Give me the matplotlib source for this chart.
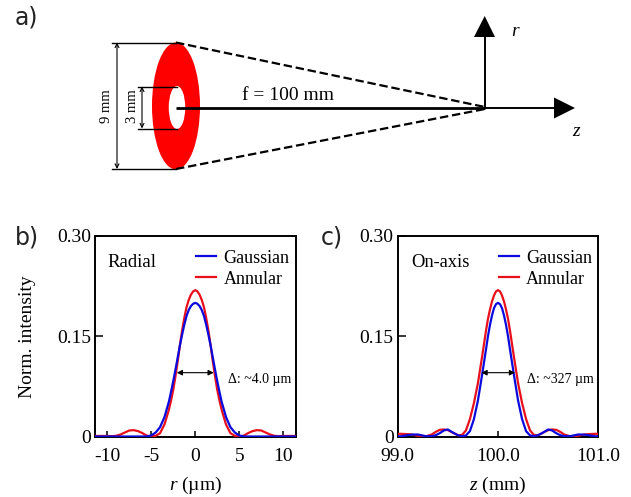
import matplotlib
matplotlib.use("Agg")
import matplotlib.pyplot as plt
from matplotlib.patches import Ellipse, Polygon

plt.rcParams['font.family'] = ['Liberation Serif', 'DejaVu Serif']
plt.rcParams['axes.unicode_minus'] = False
plt.rcParams['mathtext.fontset'] = 'custom'
plt.rcParams['mathtext.it'] = 'Liberation Serif:italic'
plt.rcParams['mathtext.rm'] = 'Liberation Serif'

# ---- data: half-profiles (curves are symmetric about the centre) ----
r_half = [0, .25, .5, .75, 1, 1.25, 1.5, 1.75, 2, 2.25, 2.5, 2.75, 3, 3.5, 4, 4.5, 5, 5.5, 6, 6.5, 7, 7.5, 8, 8.5, 9, 9.5, 10, 11.4]
radial_gauss = [.200, .1985, .195, .189, .180, .167, .152, .136, .118, .100, .083, .067, .052, .029, .014, .006, .0015, .0002, 0, 0, 0, 0, 0, 0, 0, 0, 0, 0]
radial_annular = [.219, .217, .212, .204, .193, .177, .158, .136, .112, .090, .070, .054, .040, .018, .005, .001, .0002, .0012, .005, .008, .0095, .009, .006, .003, .001, .0005, .0008, .0008]

z_half = [0, .02, .04, .06, .08, .10, .12, .16, .20, .24, .28, .32, .36, .40, .44, .50, .54, .58, .62, .66, .72, .80, .86, .90, .97, 1.0]
axial_gauss = [.200, .198, .192, .181, .167, .150, .130, .091, .054, .026, .008, .0015, .0005, .002, .005, .0105, .009, .005, .002, .0005, .0005, .003, .0028, .002, .0003, .0002]
axial_annular = [.219, .217, .211, .202, .190, .176, .158, .118, .080, .050, .026, .009, .002, .002, .005, .0095, .0105, .010, .007, .003, .0003, .001, .003, .0035, .004, .004]

b_xticks = [-10, -5, 0, 5, 10]
c_xticks = [99, 100, 101]
c_xticklabels = ['99.0', '100.0', '101.0']
yticks = [0, .15, .30]
yticklabels = ['0', '0.15', '0.30']
series_names = ['Gaussian', 'Annular']
BLUE, RED = '#0a0ade', '#e8101a'

W, H = 631, 497
fig = plt.figure(figsize=(W / 100, H / 100), dpi=100)


def axes_px(x0, x1, y0, y1):
    return fig.add_axes([x0 / W, 1 - y1 / H, (x1 - x0) / W, (y1 - y0) / H])


def mirror(xs, ys, c):
    return [c - x for x in xs[:0:-1]] + [c + x for x in xs], ys[:0:-1] + ys


def panel(ax, x, g, a, xlim, ticks, labels, xlabel, title, title_x, title_size, delta, arrow, delta_x, xpad):
    gx, gy = mirror(x, g, ticks[len(ticks) // 2])
    ax_, ay = mirror(x, a, ticks[len(ticks) // 2])
    ax.plot(ax_, ay, color=RED, lw=1.6, label=series_names[1], zorder=3)
    ax.plot(gx, gy, color=BLUE, lw=1.6, label=series_names[0], zorder=4)
    ax.set_xlim(*xlim)
    ax.set_ylim(0, .30)
    ax.set_xticks(ticks)
    ax.set_xticklabels(labels)
    ax.set_yticks(yticks)
    ax.set_yticklabels(yticklabels)
    ax.tick_params(axis='x', direction='in', length=4.5, width=1.1, labelsize=14, pad=8)
    ax.tick_params(axis='y', direction='in', length=6, width=1.1, labelsize=14, pad=3)
    for s in ax.spines.values():
        s.set_linewidth(1.4)
    ax.set_xlabel(xlabel, fontsize=14, labelpad=xpad)
    handles, names = ax.get_legend_handles_labels()
    ax.legend(handles[::-1], names[::-1], loc='upper right', bbox_to_anchor=(0.983, 0.945), frameon=False,
              fontsize=13, handlelength=1.1, handletextpad=0.42, labelspacing=0.22,
              borderaxespad=0, borderpad=0.15)
    ax.text(title_x, .87, title, transform=ax.transAxes, fontsize=title_size, ha='left', va='center')
    ax.annotate('', xy=(arrow[0], .0955), xytext=(arrow[1], .0955),
                arrowprops=dict(arrowstyle='<|-|>', color='black', lw=0.8, mutation_scale=8,
                                shrinkA=0, shrinkB=0), zorder=5)
    ax.text(delta_x, .285, delta, transform=ax.transAxes, fontsize=10, ha='left', va='center')


axb = axes_px(95, 295.5, 236, 436.5)
panel(axb, r_half, radial_gauss, radial_annular, (-11.4, 11.4), b_xticks, [str(t) for t in b_xticks],
      r'$r$ (µm)', 'Radial', .06, 13.5, 'Δ: ~4.0 µm', (-2.1, 2.1), .665, 7.5)
axb.set_ylabel('Norm. intensity', fontsize=14, labelpad=15)

axc = axes_px(397.7, 598.3, 236, 436.5)
panel(axc, z_half, axial_gauss, axial_annular, (99, 101), c_xticks, c_xticklabels,
      r'$z$ (mm)', 'On-axis', .07, 13.3, 'Δ: ~327 µm', (99.835, 100.17), .645, 7.5)

# ---- schematic, drawn in figure pixels ----
d = fig.add_axes([0, 0, 1, 1], zorder=10)
d.set_xlim(0, W)
d.set_ylim(H, 0)
d.axis('off')
d.patch.set_alpha(0)

d.add_patch(Ellipse((176, 106), 48, 127, fc='#ff0000', ec='none', zorder=1))
d.add_patch(Ellipse((177, 107.5), 16.5, 43, fc='white', ec='none', zorder=2))
d.plot([176, 485], [108, 108], color='k', lw=2, solid_capstyle='butt', zorder=3)
for y in (42.5, 169):
    d.plot([176, 485], [y, 107 if y < 100 else 109], color='k', lw=1.6, ls=(0, (3.8, 1.7)), zorder=3)
for y, x0, x1 in [(42.5, 112, 176), (169, 112, 176), (86.5, 138, 177), (128.5, 138, 177)]:
    d.plot([x0, x1], [y, y], color='k', lw=1, zorder=3)
for x, y0, y1 in [(117, 42.5, 169), (142, 86.5, 128.5)]:
    d.annotate('', xy=(x, y0), xytext=(x, y1),
               arrowprops=dict(arrowstyle='<->', color='k', lw=0.8, mutation_scale=7, shrinkA=0, shrinkB=0))
d.text(107, 106, '9 mm', rotation=90, fontsize=10.5, ha='center', va='center')
d.text(132.5, 106, '3 mm', rotation=90, fontsize=10.5, ha='center', va='center')
d.text(288.5, 95.5, 'f = 100 mm', fontsize=14, ha='center', va='center')

d.plot([484.7, 484.7], [108, 36], color='k', lw=1.4, zorder=4)
d.plot([484.7, 556], [108, 108], color='k', lw=1.4, zorder=4)
d.add_patch(Polygon([[484.7, 16], [474, 37], [495, 37]], fc='k', ec='none', zorder=4))
d.add_patch(Polygon([[575, 108], [554, 97.5], [554, 118.5]], fc='k', ec='none', zorder=4))
d.text(516, 31, r'$r$', fontsize=14, ha='center', va='center')
d.text(577, 132, r'$z$', fontsize=14, ha='center', va='center')

for label, x, y in [('a)', 15, 17), ('b)', 15, 238), ('c)', 321, 238)]:
    d.text(x, y, label, family='DejaVu Sans', fontsize=17, ha='left', va='center', color='#222222')

fig.savefig('out.png', dpi=100)
